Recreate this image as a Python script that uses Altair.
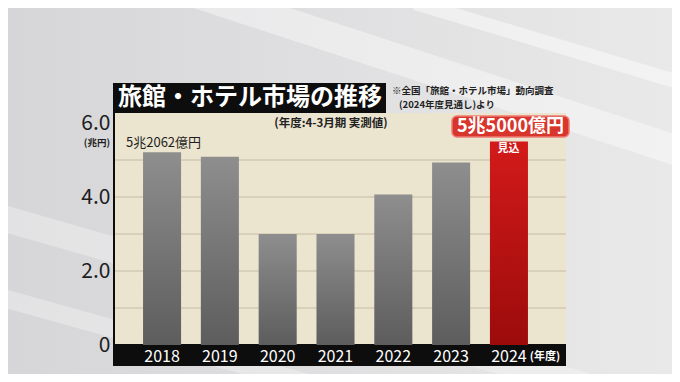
import altair as alt
import pandas as pd

# ---- data ----
years = ["2018", "2019", "2020", "2021", "2022", "2023", "2024"]
values = [5.21, 5.09, 3.0, 3.0, 4.07, 4.93, 5.5]
status = ["actual", "actual", "actual", "actual", "actual", "actual", "forecast"]
grid_values = [1, 2, 3, 4, 5]
y_tick_values = [0, 2, 4, 6]

title_text = "旅館・ホテル市場の推移"
note_line1 = "※全国「旅館・ホテル市場」動向調査"
note_line2 = "(2024年度見通し)より"
subtitle_text = "(年度:4-3月期 実測値)"
first_label = "5兆2062億円"
last_label = "5兆5000億円"
forecast_tag = "見込"
x_unit = "(年度)"
y_unit = "(兆円)"

FONT = "Noto Sans CJK JP"
W, H = 441, 222

df = pd.DataFrame({"year": years, "value": values, "status": status})
grid_df = pd.DataFrame({"g": grid_values})
one = alt.Data(values=[{"k": 0}])

y_scale = alt.Scale(domain=[0, 6], nice=False, zero=True)
y_axis = alt.Axis(
    title=None, values=y_tick_values,
    labelExpr="datum.value == 0 ? '0' : format(datum.value, '.1f')",
    labelFontSize=21, labelColor="#1e1e1e", labelFont=FONT,
    domain=False, ticks=False, grid=False, labelPadding=5, zindex=1,
)
x_axis = alt.Axis(
    title=None, labelColor="white", labelFontSize=16, labelFont=FONT,
    labelAngle=0, domain=False, ticks=False, labelPadding=11,
    labelBaseline="middle", zindex=1,
)
x_enc = alt.X("year:N", sort=years,
              scale=alt.Scale(paddingInner=0.342, paddingOuter=0.485),
              axis=x_axis)


def grad(c0, c1, x2=0, y2=1):
    return alt.LinearGradient(
        gradient="linear",
        stops=[alt.GradientStop(color=c0, offset=0), alt.GradientStop(color=c1, offset=1)],
        x1=0, y1=0, x2=x2, y2=y2,
    )


def box(x, x2, y, y2, **kw):
    return alt.Chart(one).mark_rect(**kw).encode(
        x=alt.value(x), x2=alt.value(x2), y=alt.value(y), y2=alt.value(y2))


def label(text, x, y, **kw):
    return alt.Chart(one).mark_text(text=text, font=FONT, **kw).encode(
        x=alt.value(x), y=alt.value(y))


def stripe(x, y, x2, y2, w, op):
    return alt.Chart(one).mark_rule(color="white", opacity=op, strokeWidth=w).encode(
        x=alt.value(x), y=alt.value(y), x2=alt.value(x2), y2=alt.value(y2))


background = box(-107, 557, -115, 251, fill=grad("#d6d6d8", "#e9e9ea", x2=1, y2=0))
stripes = (
    stripe(20, -150, 600, 40, 30, 0.4)
    + stripe(-130, 90, 600, 300, 26, 0.3)
    + stripe(-130, 170, 300, 290, 18, 0.3)
    + stripe(300, -120, 600, -30, 14, 0.45)
)

plot_bg = box(-1, 451, -10, 222, fill="#ebe4cf")
grid = alt.Chart(grid_df).mark_rule(color="#d3cab3", strokeWidth=1.5).encode(
    y=alt.Y("g:Q", scale=y_scale, axis=y_axis), x=alt.value(0), x2=alt.value(451))

axis_bar = box(-2, 451, 221, 243, fill="#0d0d0d")
left_border = box(-2, 0, -40, 243, fill="#0d0d0d")
title_box = box(-2, 271, -40, -10, fill="#0d0d0d")

gray_bars = alt.Chart(df).transform_filter(alt.datum.status == "actual").mark_bar(
    color=grad("#8e8e8e", "#5d5d5d")).encode(
    x=x_enc, y=alt.Y("value:Q", scale=y_scale, axis=y_axis))
red_bar = alt.Chart(df).transform_filter(alt.datum.status == "forecast").mark_bar(
    color=grad("#d31a1a", "#9c0b0b")).encode(
    x=x_enc, y=alt.Y("value:Q", scale=y_scale, axis=y_axis))

texts = (
    label(title_text, 135, -25, fontSize=24, fontWeight="bold", color="white",
          align="center", baseline="middle")
    + label(note_line1, 277, -32, fontSize=9.5, fontWeight="bold", color="#222",
            align="left", baseline="middle")
    + label(note_line2, 284, -18, fontSize=9.5, fontWeight="bold", color="#222",
            align="left", baseline="middle")
    + label(subtitle_text, 216, 1, fontSize=11.5, fontWeight="bold", color="#222",
            align="center", baseline="middle")
    + label(first_label, 11, 20, fontSize=13, color="#1e1e1e",
            align="left", baseline="middle")
    + label(forecast_tag, 393.5, 26, fontSize=11, fontWeight="bold", color="white",
            align="center", baseline="middle")
    + label(x_unit, 430, 234, fontSize=11, fontWeight="bold", color="white",
            align="center", baseline="middle")
    + label(y_unit, -5, 20, fontSize=9.5, fontWeight="bold", color="#1e1e1e",
            align="right", baseline="middle")
)
red_box = box(337, 454, -7, 14, fill="#d8352c", stroke="#ee7c74", strokeWidth=1.5,
              cornerRadius=5)
red_text = label(last_label, 395.5, 3.5, fontSize=18, fontWeight="bold", color="white",
                 align="center", baseline="middle")

chart = alt.layer(
    background, stripes, plot_bg, grid, axis_bar, left_border, title_box,
    gray_bars, red_bar, texts, red_box, red_text,
).properties(
    width=W, height=H,
    padding={"left": 107, "top": 115, "right": 116, "bottom": 29},
    autosize=alt.AutoSizeParams(type="none"),
).configure_view(stroke=None).configure(background="#dcdcdc")

chart.save("out.html", embed_options={"renderer": "svg", "actions": False})
